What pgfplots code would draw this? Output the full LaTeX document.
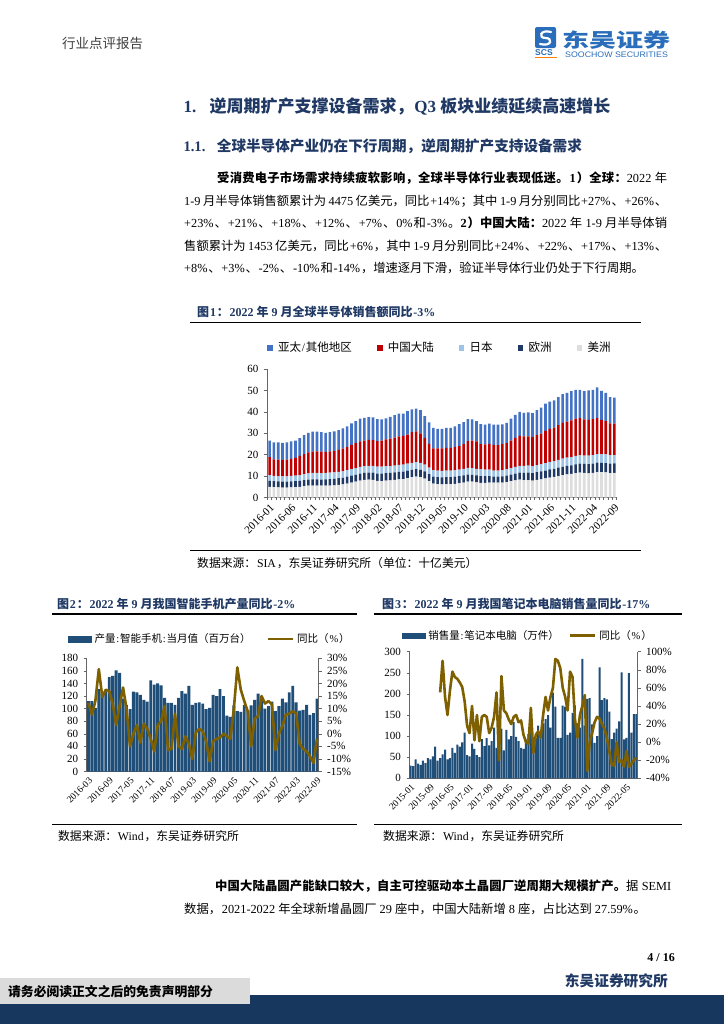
\documentclass[border=0pt]{standalone}
\usepackage{pgfplots}
\pgfplotsset{compat=1.18}
\usepackage{pgfplotstable}
\usepackage{fontspec}
\setmainfont{Liberation Serif}
\newfontfamily\cjk{Noto Sans CJK SC}
\newfontfamily\arialf{Liberation Sans}
\XeTeXinterchartokenstate=1
\newXeTeXintercharclass\CJKcls
\newcount\cjkc
\cjkc="2E80
\loop\ifnum\cjkc<"A000 \XeTeXcharclass\cjkc=\CJKcls \advance\cjkc by 1 \repeat
\cjkc="FF00
\loop\ifnum\cjkc<"FFF0 \XeTeXcharclass\cjkc=\CJKcls \advance\cjkc by 1 \repeat
\XeTeXinterchartoks 0 \CJKcls = {\hskip 0.8bp plus 1bp\relax\cjk}
\XeTeXinterchartoks 4095 \CJKcls = {\cjk}
\XeTeXinterchartoks \CJKcls 0 = {\rmfamily\hskip 0.8bp plus 1bp\relax}
\XeTeXinterchartoks \CJKcls 4095 = {\rmfamily}
\XeTeXinterchartoks \CJKcls \CJKcls = {\hskip 0bp plus 1bp\relax}
\newcommand\fs[1]{\fontsize{#1bp}{#1bp}\selectfont}
\newcommand\T[4][]{\node[anchor=base west, inner sep=0pt, #1] at (#2bp,-#3bp) {#4};}

\definecolor{navy}{HTML}{1F3864}
\definecolor{apc}{HTML}{4472C4}
\definecolor{cnc}{HTML}{C00000}
\definecolor{jpc}{HTML}{9DC3E6}
\definecolor{euc}{HTML}{1F3864}
\definecolor{amc}{HTML}{DDDDDD}
\definecolor{barb}{HTML}{1F4E79}
\definecolor{lineo}{HTML}{7F6000}
\definecolor{logob}{HTML}{2A6EBB}
\definecolor{foot}{HTML}{17375E}

\pgfplotsset{
 sqleg/.style={legend image code/.code={\path (-25bp,0bp) (10.5bp,0bp); \fill[#1] (0bp,-2.3bp) rectangle (4.6bp,2.3bp);}},
 barleg/.style={legend image code/.code={\path (0bp,0bp) (26bp,0bp); \fill[barb] (0bp,-2.8bp) rectangle (23bp,2.8bp);}},
 lineleg/.style={legend image code/.code={\path (-#1bp,0bp) (28bp,0bp); \draw[lineo, line width=2.6bp] (0bp,0bp) -- (25bp,0bp);}},
}

\pgfplotstableread{
i am eu jp cn ap
0 5.0 2.8 2.6 8.4 7.8
1 4.8 2.8 2.5 7.7 7.9
2 4.7 2.8 2.5 7.7 8.0
3 4.6 2.8 2.5 7.6 8.0
4 4.6 2.8 2.5 7.8 8.0
5 4.7 2.8 2.6 7.9 8.2
6 4.8 2.8 2.6 8.3 8.1
7 5.0 2.8 2.7 8.9 8.3
8 5.3 2.8 2.8 9.4 8.8
9 5.5 2.9 2.9 9.8 9.1
10 5.6 2.9 3.0 9.9 9.4
11 5.6 2.9 3.0 10.0 9.3
12 5.5 2.9 3.0 10.0 9.1
13 5.5 3.0 3.0 9.7 9.0
14 5.6 3.0 3.0 9.9 9.0
15 5.7 3.0 3.0 10.0 9.2
16 5.9 3.1 3.0 10.2 9.3
17 6.1 3.1 3.0 10.6 9.5
18 6.5 3.2 3.1 10.7 9.7
19 7.0 3.2 3.1 11.3 10.0
20 7.4 3.2 3.1 11.7 10.3
21 7.9 3.3 3.1 11.9 10.6
22 8.2 3.3 3.2 11.9 10.6
23 8.3 3.3 3.2 12.1 10.6
24 8.2 3.4 3.2 12.0 10.6
25 7.8 3.4 3.2 11.9 10.3
26 7.7 3.5 3.2 12.2 9.9
27 7.9 3.5 3.2 12.5 9.8
28 8.0 3.5 3.2 12.8 10.2
29 8.2 3.5 3.2 13.1 10.5
30 8.5 3.5 3.2 13.3 10.7
31 8.6 3.5 3.3 13.4 10.4
32 9.0 3.5 3.3 13.6 10.9
33 9.5 3.4 3.3 14.3 10.6
34 9.8 3.4 3.3 14.4 10.6
35 9.5 3.4 3.3 13.8 10.8
36 8.8 3.4 3.2 12.4 10.2
37 7.6 3.3 3.1 11.1 10.0
38 6.5 3.3 3.0 10.1 9.6
39 6.2 3.3 3.0 10.4 9.1
40 6.1 3.3 3.0 10.5 9.1
41 6.2 3.3 3.0 10.7 9.3
42 6.2 3.3 3.0 10.7 9.3
43 6.4 3.3 3.0 10.8 9.7
44 6.7 3.3 3.0 11.0 10.3
45 7.0 3.3 3.1 11.5 10.3
46 7.4 3.3 3.1 12.5 10.3
47 7.4 3.2 3.1 12.9 9.9
48 7.1 3.2 3.1 12.8 9.5
49 6.8 3.2 3.1 11.8 9.4
50 6.8 3.2 3.0 11.8 9.2
51 7.0 3.0 3.0 12.1 9.4
52 6.9 2.8 2.9 12.0 9.4
53 6.9 2.8 2.9 11.9 9.5
54 7.0 2.9 2.9 12.1 9.3
55 7.2 3.0 2.9 12.3 9.5
56 7.6 3.1 3.0 12.9 10.2
57 8.0 3.2 3.1 13.5 10.8
58 8.3 3.3 3.2 14.0 11.2
59 8.1 3.4 3.3 13.7 11.0
60 8.1 3.5 3.3 13.6 11.2
61 7.9 3.5 3.3 13.5 11.2
62 8.2 3.6 3.3 14.0 11.7
63 8.5 3.7 3.4 14.2 12.2
64 8.9 3.7 3.4 15.1 12.7
65 9.3 3.8 3.5 15.4 12.8
66 9.6 3.8 3.6 15.6 12.8
67 10.0 3.9 3.7 16.2 13.1
68 10.4 3.9 3.8 16.7 13.5
69 10.8 4.0 3.8 16.8 13.5
70 11.0 4.0 3.9 17.1 13.7
71 11.4 4.1 3.9 17.4 13.5
72 11.6 4.2 3.9 17.4 13.2
73 11.5 4.2 3.9 16.9 13.2
74 11.3 4.3 3.9 16.7 13.8
75 11.5 4.3 4.0 16.8 13.7
76 11.9 4.4 4.0 16.8 14.3
77 11.8 4.4 4.0 16.0 13.6
78 11.7 4.4 4.0 15.6 13.1
79 11.4 4.4 4.0 14.8 12.3
80 11.5 4.4 3.9 14.7 12.1
}\semi

\pgfplotstableread{
i v y
0 112 12.3
1 112 7.6
2 101 13
3 131 25.7
4 124 14.6
5 130 17.5
6 150 17
7 152 12
8 161 3.5
9 157 11
10 116 18.4
11 106 10
12 99 -5
13 127 0
14 126 3.5
15 122 -3.5
16 114 4
17 111 2
18 145 -2
19 138 -7
20 140 3.5
21 137 5
22 117 11
23 109 -6.5
24 109 -6
25 106 8
26 117 -5
27 128 -6
28 124 -1
29 136 -4
30 106 -10
31 109 0.5
32 110 2
33 108 1
34 99 -3
35 101 -11
36 122 -3
37 120 -2
38 131 -1.5
39 120 0
40 89 -1
41 87 -2
42 105 10
43 96 26.4
44 95 17.5
45 106 13
46 97 9
47 105 -5
48 114 6
49 124 7
50 114 15
51 100 12
52 104 13
53 111 11.6
54 96 -6.5
55 104 0
56 116 3
57 110 7.6
58 126 8
59 136 9
60 110 8
61 97 -4
62 98 -6
63 106 -7
64 90 -9
65 93 -11.6
66 116 -2
}\phone

\pgfplotstableread{
i v
0 30
1 29
2 45
3 35
4 32
5 42
6 36
7 48
8 45
9 52
10 75
11 42
12 48
13 57
14 68
15 45
16 48
17 72
18 60
19 80
20 75
21 85
22 108
23 55
24 52
25 82
26 70
27 55
28 50
29 93
30 76
31 95
32 78
33 88
34 120
35 72
36 68
37 118
38 66
39 115
40 92
41 100
42 133
43 98
44 88
45 72
46 70
47 92
48 105
49 130
50 68
51 95
52 125
53 98
54 130
55 140
56 150
57 120
58 203
59 170
60 96
61 96
62 172
63 170
64 103
65 108
66 155
67 173
68 130
69 120
70 283
71 125
72 188
73 190
74 128
75 84
76 100
77 263
78 185
79 190
80 187
81 158
82 93
83 108
84 118
85 135
86 251
87 92
88 96
89 249
90 108
91 152
92 152
}\nbv

\pgfplotstableread{
i y
12 55
13 90
14 50
15 30
16 57
17 78
18 72
19 70
20 66
21 61
22 45
23 18
24 10
25 40
26 2
27 30
28 1
29 28
30 30
31 28
32 10
33 16
34 28
35 55
36 -20
37 73
38 35
39 32
40 25
41 20
42 28
43 30
44 22
45 24
46 8
47 0
48 -2
49 38
50 -12
51 8
52 12
53 5
54 30
55 50
56 35
57 50
58 60
59 92
60 90
61 82
62 60
63 50
64 35
65 78
66 72
67 25
68 5
69 30
70 40
71 52
72 -32
73 0
74 10
75 22
76 28
77 26
78 20
79 15
80 5
81 -10
82 -25
83 -26
84 0
85 -22
86 -20
87 -27
88 -10
89 -27
90 -24
91 -20
92 -17
}\nby

\begin{document}
\begin{tikzpicture}
\path[use as bounding box, fill=white] (0bp,0bp) rectangle (724bp,-1024bp);

% ---------- header ----------
\T[font=\fs{13.5}, text=black!75]{62}{48}{行业点评报告}
\fill[logob, rounded corners=2bp] (535bp,-27bp) rectangle (556bp,-48bp);
\draw[white, line width=2.2bp, line cap=round] (551bp,-32bp) .. controls (540bp,-29bp) and (538bp,-38bp) .. (545.5bp,-38bp) .. controls (553bp,-38bp) and (552bp,-47bp) .. (540bp,-44bp);
\T[font=\arialf\bfseries\fs{8.5}, text=logob]{535}{55.5}{SCS}
\draw[orange, line width=1.3bp] (535bp,-57.5bp) -- (557bp,-57.5bp);
\node[anchor=base west, inner sep=0pt, xscale=1.4, font=\bfseries\fs{19.3}, text=logob] at (562bp,-47bp) {东吴证券};
\node[anchor=base west, inner sep=0pt, xscale=1.1, font=\arialf\fs{8}, text=logob] at (565bp,-57.5bp) {SOOCHOW SECURITIES};

% ---------- titles ----------
\T[font=\bfseries\fs{17}, text=navy]{183.3}{112}{1.}
\T[font=\bfseries\fs{17}, text=navy]{209.3}{112}{逆周期扩产支撑设备需求，Q3 板块业绩延续高速增长}
\T[font=\bfseries\fs{14.6}, text=navy]{183.3}{151.5}{1.1.}
\T[font=\bfseries\fs{14.6}, text=navy]{216.7}{151.5}{全球半导体产业仍在下行周期，逆周期扩产支持设备需求}

% ---------- paragraph 1 ----------
\T[font=\fs{12.3}]{217}{182.7}{\hbox to 450bp{{\bfseries 受消费电子市场需求持续疲软影响，全球半导体行业表现低迷。1）全球：}2022 年}}
\T[font=\fs{12.3}]{184}{205.2}{\hbox to 483bp{1-9 月半导体销售额累计为 4475 亿美元，同比+14\%；其中 1-9 月分别同比+27\%、+26\%、}}
\T[font=\fs{12.3}]{184}{227.7}{\hbox to 483bp{+23\%、+21\%、+18\%、+12\%、+7\%、0\%和-3\%。{\bfseries 2）中国大陆：}2022 年 1-9 月半导体销}}
\T[font=\fs{12.3}]{184}{250.2}{\hbox to 483bp{售额累计为 1453 亿美元，同比+6\%，其中 1-9 月分别同比+24\%、+22\%、+17\%、+13\%、}}
\T[font=\fs{12.3}]{184}{272.7}{+8\%、+3\%、-2\%、-10\%和-14\%，增速逐月下滑，验证半导体行业仍处于下行周期。}

% ---------- figure 1 frame ----------
\T[font=\bfseries\fs{12}, text=navy]{197}{316.3}{图1：2022 年 9 月全球半导体销售额同比-3\%}
\draw[line width=1.3bp] (190bp,-322.3bp) -- (641bp,-322.3bp);
\draw[line width=1.5bp] (190bp,-550.7bp) -- (641bp,-550.7bp);
\T[font=\fs{11.8}]{197}{567.5}{数据来源：SIA，东吴证券研究所（单位：十亿美元）}

% ---------- figure 2/3 frames ----------
\T[font=\bfseries\fs{12}, text=navy]{57}{608}{图2：2022 年 9 月我国智能手机产量同比-2\%}
\T[font=\bfseries\fs{12}, text=navy]{382}{608}{图3：2022 年 9 月我国笔记本电脑销售量同比-17\%}
\draw[line width=1.3bp] (52bp,-614bp) -- (357bp,-614bp);
\draw[line width=1.3bp] (374bp,-614bp) -- (682bp,-614bp);
\draw[line width=1.5bp] (52bp,-824.5bp) -- (357bp,-824.5bp);
\draw[line width=1.5bp] (374bp,-824.5bp) -- (682bp,-824.5bp);
\T[font=\fs{11.8}]{58}{840.5}{数据来源：Wind，东吴证券研究所}
\T[font=\fs{11.8}]{383}{840.5}{数据来源：Wind，东吴证券研究所}

% ---------- paragraph 2 ----------
\T[font=\fs{12.3}]{215}{890.7}{\hbox to 456bp{{\bfseries 中国大陆晶圆产能缺口较大，自主可控驱动本土晶圆厂逆周期大规模扩产。}据 SEMI}}
\T[font=\fs{12.3}]{184}{913.2}{数据，2021-2022 年全球新增晶圆厂 29 座中，中国大陆新增 8 座，占比达到 27.59\%。}

% ---------- footer ----------
\node[anchor=base east, inner sep=0pt, font=\bfseries\fs{12}] at (675bp,-961bp) {4 / 16};
\node[anchor=base east, inner sep=0pt, font=\bfseries\fs{14.7}, text=navy] at (668bp,-986.5bp) {东吴证券研究所};
\fill[foot] (0bp,-995bp) rectangle (724bp,-1024bp);
\fill[gray!28] (0bp,-978bp) rectangle (250bp,-1004bp);
\T[font=\bfseries\fs{12.8}]{8}{996}{请务必阅读正文之后的免责声明部分}

% ---------- chart 1 ----------
\begin{axis}[
  at={(267bp,-497.5bp)}, anchor=south west, scale only axis,
  width=350bp, height=128.5bp,
  xmin=-0.6, xmax=80.6, ymin=0, ymax=60,
  ybar stacked, bar width=2.6bp,
  axis x line*=bottom, axis y line*=left,
  axis line style={black!60, line width=0.6bp},
  tick style={black!60, line width=0.5bp},
  tick align=outside, major tick length=3.5bp, minor tick length=2.5bp,
  ytick={0,10,...,60},
  xtick={0,5,...,80},
  xticklabels={2016-01,2016-06,2016-11,2017-04,2017-09,2018-02,2018-07,2018-12,2019-05,2019-10,2020-03,2020-08,2021-01,2021-06,2021-11,2022-04,2022-09},
  major x tick style={draw=none},
  minor xtick={-0.5,0.5,...,80.5},
  /pgf/number format/assume math mode=true,
  yticklabel style={font=\fs{11}, xshift=-1.5bp},
  xticklabel style={font=\fs{11}, rotate=45, anchor=north east, inner sep=1.5bp},
]
\addplot[fill=amc, draw=none] table[x=i, y=am] {\semi};
\addplot[fill=euc, draw=none] table[x=i, y=eu] {\semi};
\addplot[fill=jpc, draw=none] table[x=i, y=jp] {\semi};
\addplot[fill=cnc, draw=none] table[x=i, y=cn] {\semi};
\addplot[fill=apc, draw=none] table[x=i, y=ap] {\semi};
\end{axis}
\begin{axis}[
  at={(267bp,-497.5bp)}, anchor=south west, scale only axis,
  width=350bp, height=128.5bp, xmin=0, xmax=1, ymin=0, ymax=1, hide axis,
  legend columns=5,
  legend style={at={(axis description cs:-0.0714,1.166)}, anchor=west, draw=none, fill=none, inner sep=0bp, column sep=0bp, font=\fs{11.5}, nodes={inner sep=0bp}},
]
\addlegendimage{sqleg=apc}\addlegendentry{亚太/其他地区}
\addlegendimage{sqleg=cnc}\addlegendentry{中国大陆}
\addlegendimage{sqleg=jpc}\addlegendentry{日本}
\addlegendimage{sqleg=euc}\addlegendentry{欧洲}
\addlegendimage{sqleg=amc}\addlegendentry{美洲}
\end{axis}

% ---------- chart 2 ----------
\begin{axis}[
  at={(86.7bp,-771.5bp)}, anchor=south west, scale only axis,
  width=232bp, height=113.2bp,
  xmin=-0.5, xmax=66.5, ymin=0, ymax=180,
  axis x line*=bottom, axis y line*=left,
  axis line style={black!60, line width=0.6bp},
  tick style={black!60, line width=0.5bp},
  tick align=outside, major tick length=3bp,
  ytick={0,20,...,180},
  xtick={0,6,...,66},
  xticklabels={2016-03,2016-09,2017-05,2017-11,2018-07,2019-03,2019-09,2020-05,2020-11,2021-07,2022-03,2022-09},
  major x tick style={draw=none},
  /pgf/number format/assume math mode=true,
  yticklabel style={font=\fs{11}, xshift=-2bp},
  xticklabel style={font=\fs{9.5}, rotate=45, anchor=north east, inner sep=1.5bp},
]
\addplot[ybar, bar width=2.9bp, bar shift=0pt, fill=barb, draw=none] table[x=i, y=v] {\phone};
\end{axis}
\begin{axis}[
  at={(86.7bp,-771.5bp)}, anchor=south west, scale only axis,
  width=232bp, height=113.2bp,
  xmin=-0.5, xmax=66.5, ymin=-15, ymax=30,
  axis y line*=right, axis x line=none, xtick=\empty,
  axis line style={black!60, line width=0.6bp},
  tick style={black!60, line width=0.5bp},
  tick align=outside, major tick length=3bp,
  ytick={-15,-10,...,30},
  yticklabel={\pgfmathprintnumber{\tick}\%},
  /pgf/number format/assume math mode=true,
  yticklabel style={font=\fs{11}, xshift=2bp},
  legend columns=2,
  legend style={at={(axis description cs:-0.0806,1.1705)}, anchor=west, draw=none, fill=none, inner sep=0bp, column sep=0bp, font=\fs{10.5}, nodes={inner sep=0bp}},
]
\addlegendimage{barleg}\addlegendentry{产量:智能手机:当月值（百万台）}
\addplot[lineo, line width=2.6bp, line join=round, lineleg=16] table[x=i, y=y] {\phone};
\addlegendentry{同比（\%）}
\end{axis}

% ---------- chart 3 ----------
\begin{axis}[
  at={(409.5bp,-778.3bp)}, anchor=south west, scale only axis,
  width=228bp, height=126.6bp,
  xmin=-0.5, xmax=92.5, ymin=0, ymax=300,
  axis x line*=bottom, axis y line*=left,
  axis line style={black!60, line width=0.6bp},
  tick style={black!60, line width=0.5bp},
  tick align=outside, major tick length=3bp,
  ytick={0,50,...,300},
  xtick={0,8,...,88},
  xticklabels={2015-01,2015-09,2016-05,2017-01,2017-09,2018-05,2019-01,2019-09,2020-05,2021-01,2021-09,2022-05},
  major x tick style={draw=none},
  /pgf/number format/assume math mode=true,
  yticklabel style={font=\fs{11}, xshift=-2bp},
  xticklabel style={font=\fs{9.5}, rotate=45, anchor=north east, inner sep=1.5bp},
]
\addplot[ybar, bar width=2bp, bar shift=0pt, fill=barb, draw=none] table[x=i, y=v] {\nbv};
\end{axis}
\begin{axis}[
  at={(409.5bp,-778.3bp)}, anchor=south west, scale only axis,
  width=228bp, height=126.6bp,
  xmin=-0.5, xmax=92.5, ymin=-40, ymax=100,
  axis y line*=right, axis x line=none, xtick=\empty,
  axis line style={black!60, line width=0.6bp},
  tick style={black!60, line width=0.5bp},
  tick align=outside, major tick length=3bp,
  ytick={-40,-20,...,100},
  yticklabel={\pgfmathprintnumber{\tick}\%},
  /pgf/number format/assume math mode=true,
  yticklabel style={font=\fs{11}, xshift=2bp},
  legend columns=2,
  legend style={at={(axis description cs:-0.0342,1.1264)}, anchor=west, draw=none, fill=none, inner sep=0bp, column sep=0bp, font=\fs{10.5}, nodes={inner sep=0bp}},
]
\addlegendimage{barleg}\addlegendentry{销售量:笔记本电脑（万件）}
\addplot[lineo, line width=2.6bp, line join=round, lineleg=10] table[x=i, y=y] {\nby};
\addlegendentry{同比（\%）}
\end{axis}
\end{tikzpicture}
\end{document}
